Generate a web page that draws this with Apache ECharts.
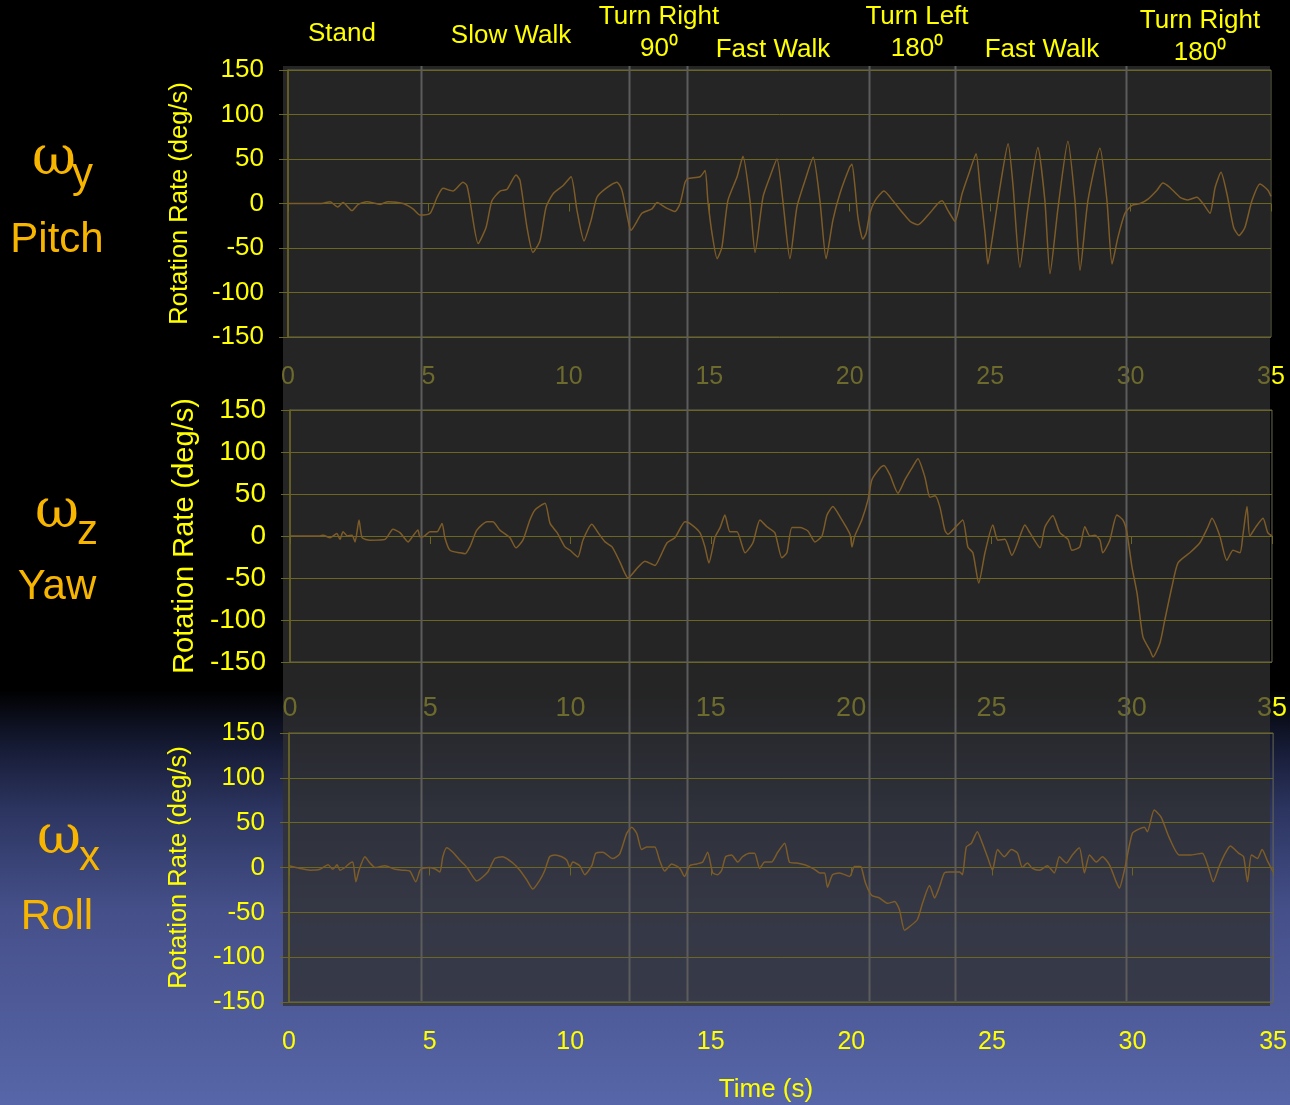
<!DOCTYPE html>
<html><head><meta charset="utf-8">
<script src="https://cdn.jsdelivr.net/npm/echarts@6/dist/echarts.min.js"></script>
<style>html,body{margin:0;padding:0;background:#000}#c{width:1290px;height:1105px}</style>
</head><body><div id="c"></div><script>
// ---------- data ----------
const xTicks = [0, 5, 10, 15, 20, 25, 30, 35];
const yTicks = [-150, -100, -50, 0, 50, 100, 150];
const eventTimes = [4.74, 12.14, 14.21, 20.69, 23.75, 29.84];
const eventLabels = ['Stand', 'Slow Walk', 'Turn Right\n90⁰', 'Fast Walk', 'Turn Left\n180⁰', 'Fast Walk', 'Turn Right\n180⁰'];
const panelSymbols = ['y', 'z', 'x'];
const panelNames = ['Pitch', 'Yaw', 'Roll'];
const xTitle = 'Time (s)';
const yTitle = 'Rotation Rate (deg/s)';

const pitch = [[0,0],[0.43,0],[1.2,0],[1.5,2],[1.77,-4],[1.96,1],[2.28,-8],[2.5,-1],[2.81,2],[3.28,-1],[3.56,2],[4.1,0],[4.45,-6],[4.7,-13],[5.06,-11],[5.31,7],[5.52,17],[5.87,14],[6.23,24],[6.37,20],[6.48,3],[6.77,-45],[7.05,-27],[7.26,3],[7.55,14],[7.80,16],[8.12,32],[8.26,26],[8.51,-27],[8.72,-55],[8.97,-42],[9.19,-4],[9.44,11],[9.79,20],[10.08,30],[10.29,-8],[10.54,-42],[10.79,-19],[11.00,7],[11.32,17],[11.71,24],[11.89,15],[12.11,-19],[12.21,-30],[12.60,-11],[12.96,-6],[13.14,1],[13.46,-5],[13.78,-9],[13.96,0],[14.14,24],[14.24,28],[14.67,30],[14.85,37],[14.95,3],[15.10,-34],[15.28,-62],[15.45,-49],[15.66,3],[15.99,30],[16.20,53],[16.45,3],[16.63,-55],[16.91,7],[17.16,30],[17.41,50],[17.62,3],[17.87,-62],[18.12,-4],[18.41,26],[18.70,52],[18.94,3],[19.16,-62],[19.40,-19],[19.65,11],[20.0,41],[20.08,44],[20.19,18],[20.29,-15],[20.47,-40],[20.58,-34],[20.72,-11],[20.90,3],[21.22,14],[21.54,3],[21.90,-11],[22.15,-20],[22.43,-24],[22.79,-13],[23.14,0],[23.29,3],[23.50,-8],[23.75,-20],[24.00,11],[24.28,37],[24.50,56],[24.64,18],[24.82,-34],[24.92,-68],[25.10,-34],[25.35,18],[25.64,67],[25.81,22],[26.06,-72],[26.35,-4],[26.70,63],[26.95,3],[27.13,-79],[27.42,-4],[27.77,70],[28.02,3],[28.20,-75],[28.48,3],[28.91,62],[29.16,3],[29.34,-68],[29.55,-38],[29.80,-11],[30.05,-2],[30.34,0],[30.62,5],[30.94,15],[31.15,23],[31.40,18],[31.76,7],[32.04,4],[32.36,7],[32.58,0],[32.83,-11],[33.01,18],[33.22,35],[33.43,11],[33.67,-27],[33.86,-36],[34.07,-27],[34.32,3],[34.61,22],[34.89,15],[35,8]];

const yaw = [[0,0],[1.07,0],[1.18,1],[1.43,-2],[1.67,3],[1.78,-4],[1.89,5],[2.05,0],[2.21,1],[2.32,-7],[2.46,19],[2.57,-2],[2.85,-5],[3.39,-4],[3.67,8],[3.92,4],[4.21,-7],[4.38,0],[4.56,7],[4.63,-1],[4.74,-1],[4.99,5],[5.24,5],[5.42,15],[5.52,-2],[5.70,-17],[6.06,-20],[6.24,-21],[6.41,-13],[6.66,7],[7.02,17],[7.23,17],[7.48,7],[7.84,-2],[8.05,-14],[8.30,-5],[8.55,19],[8.73,31],[9.09,39],[9.27,15],[9.52,4],[9.80,-13],[9.98,-17],[10.26,-25],[10.44,-5],[10.76,14],[10.98,4],[11.23,-7],[11.48,-13],[11.76,-31],[12.05,-50],[12.33,-40],[12.65,-30],[13.01,-35],[13.19,-25],[13.44,-8],[13.72,-2],[14.08,17],[14.25,15],[14.61,4],[14.79,-13],[14.93,-32],[15.15,-1],[15.33,10],[15.50,25],[15.68,5],[15.93,5],[16.22,-20],[16.50,-8],[16.75,19],[17.00,11],[17.28,4],[17.53,-26],[17.71,-20],[17.89,10],[18.18,10],[18.46,6],[18.71,-7],[18.96,0],[19.14,25],[19.35,35],[19.60,23],[19.96,2],[20.03,-13],[20.13,0],[20.38,19],[20.60,43],[20.74,67],[21.03,81],[21.17,84],[21.38,73],[21.67,51],[21.92,67],[22.17,81],[22.38,92],[22.63,70],[22.81,46],[22.99,48],[23.16,35],[23.34,7],[23.45,2],[23.70,10],[23.98,19],[24.16,-13],[24.34,-20],[24.55,-56],[24.77,-20],[25.05,13],[25.23,-5],[25.48,-4],[25.73,-23],[26.02,0],[26.19,13],[26.37,4],[26.73,-14],[26.91,11],[27.19,24],[27.44,4],[27.73,-4],[27.87,-17],[28.15,-13],[28.33,11],[28.51,0],[28.69,1],[28.87,-5],[28.97,-20],[29.22,-5],[29.47,25],[29.69,19],[29.83,4],[30.01,-37],[30.19,-68],[30.40,-120],[30.65,-136],[30.76,-144],[31.01,-127],[31.18,-100],[31.43,-61],[31.65,-32],[32.07,-20],[32.43,-8],[32.72,11],[32.86,21],[33.14,0],[33.39,-29],[33.61,-17],[33.86,-20],[33.96,0],[34.11,35],[34.21,0],[34.43,11],[34.68,21],[34.85,4],[35,0]];

const roll = [[0,2],[0.39,-1],[0.75,-3],[1.10,-2],[1.39,3],[1.56,-2],[1.71,3],[1.81,-3],[1.99,0],[2.17,5],[2.27,6],[2.38,-16],[2.49,-3],[2.70,12],[2.88,5],[3.06,0],[3.41,2],[3.77,-2],[4.05,-3],[4.30,-4],[4.51,-16],[4.66,-3],[4.76,-1],[5.01,0],[5.22,-2],[5.37,-5],[5.47,12],[5.61,22],[5.83,17],[6.08,8],[6.33,0],[6.68,-15],[7.07,-5],[7.32,10],[7.60,12],[7.96,5],[8.21,-3],[8.46,-14],[8.67,-24],[8.92,-14],[9.10,-3],[9.27,12],[9.45,14],[9.70,12],[9.88,8],[9.99,0],[10.09,6],[10.34,2],[10.52,-8],[10.77,2],[10.91,16],[11.16,17],[11.51,10],[11.76,15],[12.01,38],[12.19,45],[12.37,38],[12.54,20],[12.72,23],[13.01,23],[13.18,8],[13.36,-4],[13.61,4],[13.90,-1],[14.07,-10],[14.25,2],[14.50,4],[14.71,6],[14.89,17],[15.07,-6],[15.25,-8],[15.39,-3],[15.53,12],[15.74,14],[15.96,6],[16.13,12],[16.38,16],[16.56,16],[16.74,-1],[16.92,6],[17.16,6],[17.38,17],[17.63,27],[17.80,6],[18.05,5],[18.34,3],[18.69,-2],[18.87,-6],[19.05,-6],[19.15,-22],[19.33,-8],[19.58,-6],[19.94,-10],[20.11,1],[20.29,1],[20.36,0],[20.50,-17],[20.72,-31],[21.00,-34],[21.29,-40],[21.54,-38],[21.71,-47],[21.89,-70],[22.07,-66],[22.35,-58],[22.53,-40],[22.78,-20],[22.96,-34],[23.13,-22],[23.31,-6],[23.49,-5],[23.85,-5],[23.95,-8],[24.09,23],[24.27,27],[24.48,40],[24.66,27],[24.84,12],[25.02,-3],[25.20,20],[25.44,12],[25.69,20],[25.91,16],[26.08,0],[26.26,5],[26.44,-1],[26.69,-3],[26.97,2],[27.22,-6],[27.40,12],[27.65,5],[27.86,14],[28.11,22],[28.29,-6],[28.47,14],[28.71,6],[28.93,12],[29.18,3],[29.42,-16],[29.53,-23],[29.74,1],[29.99,38],[30.24,43],[30.42,45],[30.53,40],[30.77,64],[31.02,56],[31.31,33],[31.66,14],[32.09,14],[32.48,16],[32.73,-3],[32.87,-16],[33.08,1],[33.30,16],[33.48,24],[33.77,16],[33.95,12],[34.09,-16],[34.23,14],[34.44,10],[34.61,20],[34.79,8],[35,-5]];

// ---------- styling ----------
const YEL = '#ffff00', OLIVE = '#6c6a2c', GRIDC = '#6b6622', LINEC = '#7d5c28', ORANGE = '#f7b500';
const SANS = '"Liberation Sans", Arial, sans-serif';
const SERIF = '"DejaVu Serif", "Liberation Serif", serif';
const seriesData = [pitch, yaw, roll];

const grids = [
  {left: 288, top: 70, width: 983, height: 267},
  {left: 290, top: 410, width: 982, height: 252},
  {left: 289, top: 733, width: 985, height: 269}
];
const xLabelSize = [25, 27, 25], xLabelMargin = [28, 33, 28];
const yLabelSize = [26, 28, 26], yNameSize = [25.5, 29, 25.5], yNameGap = [95, 90, 97];

const chart = echarts.init(document.getElementById('c'), null, {renderer: 'canvas'});

const xAxes = [], yAxes = [], series = [];
grids.forEach((g, i) => {
  xAxes.push({
    gridIndex: i, type: 'value', min: xTicks[0], max: xTicks[xTicks.length - 1], interval: 5,
    position: 'bottom',
    axisLine: {show: false, onZero: false}, axisTick: {show: false}, splitLine: {show: false},
    axisLabel: {
      color: i < 2 ? OLIVE : YEL, fontSize: xLabelSize[i], fontFamily: SANS, margin: xLabelMargin[i],
      formatter: v => (i < 2 && v === 35) ? '{o|3}{y|5}' : String(v),
      rich: {o: {color: OLIVE, fontSize: xLabelSize[i], fontFamily: SANS}, y: {color: YEL, fontSize: xLabelSize[i], fontFamily: SANS}}
    }
  });
  yAxes.push({
    gridIndex: i, type: 'value', min: yTicks[0], max: yTicks[yTicks.length - 1], interval: 50,
    axisLine: {show: true, onZero: false, lineStyle: {color: GRIDC, width: 1.5}},
    axisTick: {show: true, length: 9, lineStyle: {color: GRIDC}},
    axisLabel: {color: YEL, fontSize: yLabelSize[i], fontFamily: SANS, margin: 24},
    splitLine: {show: true, lineStyle: {color: GRIDC, width: 1}},
    name: yTitle, nameLocation: 'middle', nameGap: yNameGap[i],
    nameTextStyle: {color: YEL, fontSize: yNameSize[i], fontFamily: SANS}
  });
  series.push({
    type: 'line', xAxisIndex: i, yAxisIndex: i, data: seriesData[i], showSymbol: false, smooth: 0.2,
    lineStyle: {color: LINEC, width: 1.5}, z: 3, animation: false
  });
});
// zero-line tick axes
grids.forEach((g, i) => {
  xAxes.push({
    gridIndex: i, type: 'value', min: 0, max: 35, interval: 5, position: 'top',
    axisLine: {show: true, onZero: true, lineStyle: {opacity: 0}},
    axisTick: {show: true, inside: true, length: 8, lineStyle: {color: GRIDC}},
    axisLabel: {show: false}, splitLine: {show: false}
  });
});

const option = {
  animation: false,
  backgroundColor: {
    type: 'linear', x: 0, y: 0, x2: 0, y2: 1,
    colorStops: [
      {offset: 0, color: '#000000'}, {offset: 0.624, color: '#000000'},
      {offset: 0.674, color: '#151a33'}, {offset: 0.733, color: '#2c3560'},
      {offset: 0.824, color: '#45508a'}, {offset: 0.905, color: '#4e5a98'},
      {offset: 1, color: '#5666a8'}
    ]
  },
  grid: grids.map(g => Object.assign({show: true, borderColor: '#6a6952', borderWidth: 1, backgroundColor: 'transparent'}, g)),
  xAxis: xAxes, yAxis: yAxes, series: series
};
chart.setOption(option);

// ---------- decorations ----------
const gfx = [];
gfx.push({type: 'rect', z: -1, silent: true, shape: {x: 283, y: 66, width: 987, height: 940},
  style: {fill: 'rgba(48,48,48,0.77)'}});
eventTimes.forEach(t => {
  const px = Math.round(chart.convertToPixel({xAxisIndex: 0}, t)) + 0.5;
  gfx.push({type: 'line', z: 1, silent: true, shape: {x1: px, y1: 66, x2: px, y2: 1001},
    style: {stroke: '#5c5c5c', lineWidth: 2}});
});
const evPos = [[342, 34], [511, 36], [659, 33], [773, 50], [917, 33], [1042, 50], [1200, 37]];
eventLabels.forEach((s, k) => {
  gfx.push({type: 'text', x: evPos[k][0], y: evPos[k][1], z: 5, silent: true,
    style: {text: s, fill: YEL, font: '26px ' + SANS, align: 'center', verticalAlign: 'middle', lineHeight: 32}});
});
gfx.push({type: 'text', x: 766, y: 1090, z: 5, silent: true,
  style: {text: xTitle, fill: YEL, font: '26px ' + SANS, align: 'center', verticalAlign: 'middle'}});
const omegaPos = [[32, 160], [35, 513], [37, 839]];
const subPos = [[72, 175], [77, 532], [79, 858]];
const namePos = [[57, 240], [57, 587], [57, 917]];
panelSymbols.forEach((s, k) => {
  gfx.push({type: 'text', x: omegaPos[k][0], y: omegaPos[k][1], z: 5, silent: true,
    style: {text: 'ω', fill: ORANGE, font: '54px ' + SERIF, align: 'left', verticalAlign: 'middle'}});
  gfx.push({type: 'text', x: subPos[k][0], y: subPos[k][1], z: 5, silent: true,
    style: {text: s, fill: ORANGE, font: '42px ' + SANS, align: 'left', verticalAlign: 'middle'}});
  gfx.push({type: 'text', x: namePos[k][0], y: namePos[k][1], z: 5, silent: true,
    style: {text: panelNames[k], fill: ORANGE, font: '42px ' + SANS, align: 'center', verticalAlign: 'middle'}});
});
chart.setOption({graphic: gfx});
</script></body></html>
